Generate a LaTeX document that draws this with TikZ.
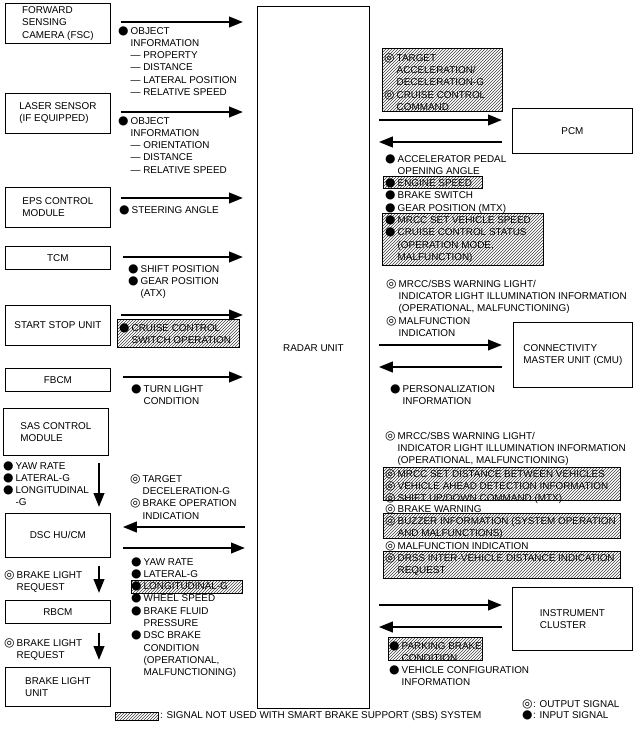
\documentclass[tikz,border=0pt]{standalone}
\usepackage{fontspec}
\setmainfont{Liberation Sans}
\newfontfamily\symf{DejaVu Sans}
\usetikzlibrary{calc,patterns,arrows.meta}
\def\sigfont{\fontsize{9.9}{12.3}\selectfont}
\def\insig{\makebox[12.5pt][l]{\symf\fontsize{12}{12}\selectfont ●}}
\def\outsig{\makebox[12.5pt][l]{\symf\fontsize{12}{12}\selectfont ◎}}
\def\ind{\hspace*{12.5pt}}
\def\dsh{—\ }

\begin{document}
\begin{tikzpicture}[x=1pt, y=-1pt,
		box/.style={draw, line width=0.8pt, anchor=north west, align=left, inner sep=0pt, font=\sigfont},
		txt/.style={anchor=north west, align=left, inner sep=0pt, font=\sigfont, yshift=3.8pt},
		hatch/.style={draw, line width=0.6pt, pattern=north east lines, pattern color=black!75},
		sig/.style={line width=2.4pt, -{Triangle[length=14pt,width=10.5pt]}}]
		%%%%% START %%%%%
		\useasboundingbox (0,0) rectangle (639,729);
		
		% hatched signals
		\draw[hatch] (117,319) rectangle (239,347);
		\draw[hatch] (131,580) rectangle (242,593);
		\draw[hatch] (115,712) rectangle (158,720);
		\draw[hatch] (382,48) rectangle (502,111);
		\draw[hatch] (383,176) rectangle (482,188);
		\draw[hatch] (382,213) rectangle (543,265);
		\draw[hatch] (383,467) rectangle (620,500);
		\draw[hatch] (383,513) rectangle (620,538);
		\draw[hatch] (383,551) rectangle (620,578);
		\draw[hatch] (388,637) rectangle (482,660);
		
		% units
		\node[box, minimum width=112, minimum height=702] (radar) at (257,6) {};
		\node[font=\sigfont] (radartxt) at ([yshift=9pt]radar.center) {RADAR UNIT};
		
		\node[box, minimum width=105, minimum height=40] (fsc) at (5,3) {FORWARD\\SENSING\\CAMERA (FSC)};
		\node[box, minimum width=105, minimum height=40] (laser) at (5,93) {LASER SENSOR\\(IF EQUIPPED)};
		\node[box, minimum width=105, minimum height=40] (eps) at (5,187) {EPS CONTROL\\MODULE};
		\node[box, minimum width=105, minimum height=23] (tcm) at (5,246) {TCM};
		\node[box, minimum width=105, minimum height=40] (ssu) at (5,305) {START STOP UNIT};
		\node[box, minimum width=105, minimum height=23] (fbcm) at (5,368) {FBCM};
		\node[box, minimum width=105, minimum height=47] (sas) at (3,408) {SAS CONTROL\\MODULE};
		\node[box, minimum width=105, minimum height=44] (dsc) at (5,513) {DSC HU/CM};
		\node[box, minimum width=105, minimum height=23] (rbcm) at (5,600) {RBCM};
		\node[box, minimum width=105, minimum height=39] (blu) at (5,667) {BRAKE LIGHT\\UNIT};
		
		\node[box, minimum width=120, minimum height=45] (pcm) at (512,108) {PCM};
		\node[box, minimum width=119, minimum height=65] (cmu) at (513,322) {CONNECTIVITY\\MASTER UNIT (CMU)};
		\node[box, minimum width=120, minimum height=63] (ic) at (512,587) {INSTRUMENT\\CLUSTER};
		
		% arrows, left side
		\draw[sig, shorten <=10pt, shorten >=14pt] (fsc.east |- 0,22) -- (radar.west |- 0,22);
		\draw[sig, shorten <=10pt, shorten >=14pt] (laser.east |- 0,112) -- (radar.west |- 0,112);
		\draw[sig, shorten <=10pt, shorten >=14pt] (eps.east |- 0,198) -- (radar.west |- 0,198);
		\draw[sig, shorten <=12pt, shorten >=14pt] (tcm.east |- 0,257) -- (radar.west |- 0,257);
		\draw[sig, shorten <=10pt, shorten >=14pt] (ssu.east |- 0,315) -- (radar.west |- 0,315);
		\draw[sig, shorten <=12pt, shorten >=14pt] (fbcm.east |- 0,377) -- (radar.west |- 0,377);
		\draw[sig, shorten <=12pt, shorten >=12pt] (radar.west |- 0,527) -- (dsc.east |- 0,527);
		\draw[sig, shorten <=12pt, shorten >=12pt] (dsc.east |- 0,548) -- (radar.west |- 0,548);
		
		\draw[sig, shorten <=7pt, shorten >=6pt] (sas.south -| 99,0) -- (dsc.north -| 99,0);
		\draw[sig, shorten <=8pt, shorten >=7pt] (dsc.south -| 99,0) -- (rbcm.north -| 99,0);
		\draw[sig, shorten <=9pt, shorten >=7pt] (rbcm.south -| 99,0) -- (blu.north -| 99,0);
		
		% arrows, right side
		\draw[sig, shorten <=9pt, shorten >=10pt] (radar.east |- 0,120) -- (pcm.west |- 0,120);
		\draw[sig, shorten <=10pt, shorten >=9pt] (pcm.west |- 0,142) -- (radar.east |- 0,142);
		\draw[sig, shorten <=9pt, shorten >=11pt] (radar.east |- 0,345) -- (cmu.west |- 0,345);
		\draw[sig, shorten <=11pt, shorten >=9pt] (cmu.west |- 0,367) -- (radar.east |- 0,367);
		\draw[sig, shorten <=9pt, shorten >=10pt] (radar.east |- 0,605) -- (ic.west |- 0,605);
		\draw[sig, shorten <=10pt, shorten >=9pt] (ic.west |- 0,627) -- (radar.east |- 0,627);
		
		% signals, left side
		\node[txt] (fscsig) at (118,30) {\insig OBJECT\\\ind INFORMATION\\\ind\dsh PROPERTY\\\ind\dsh DISTANCE\\\ind\dsh LATERAL POSITION\\\ind\dsh RELATIVE SPEED};
		\node[txt] (lasersig) at (118,120) {\insig OBJECT\\\ind INFORMATION\\\ind\dsh ORIENTATION\\\ind\dsh DISTANCE\\\ind\dsh RELATIVE SPEED};
		\node[txt] (epssig) at (119,209) {\insig STEERING ANGLE};
		\node[txt] (tcmsig) at (128,268) {\insig SHIFT POSITION\\\insig GEAR POSITION\\\ind (ATX)};
		\node[txt] (ssusig) at (119,327) {\insig CRUISE CONTROL\\\ind SWITCH OPERATION};
		\node[txt] (fbcmsig) at (131,388) {\insig TURN LIGHT\\\ind CONDITION};
		\node[txt] (sassig) at (3,465) {\insig YAW RATE\\\insig LATERAL-G\\\insig LONGITUDINAL\\\ind -G};
		\node[txt] (dscout) at (130,478) {\outsig TARGET\\\ind DECELERATION-G\\\outsig BRAKE OPERATION\\\ind INDICATION};
		\node[txt] (dscin) at (131,561) {\insig YAW RATE\\\insig LATERAL-G\\\insig LONGITUDINAL-G\\\insig WHEEL SPEED\\\insig BRAKE FLUID\\\ind PRESSURE\\\insig DSC BRAKE\\\ind CONDITION\\\ind (OPERATIONAL,\\\ind MALFUNCTIONING)};
		\node[txt] (rbcmsig) at (4,574) {\outsig BRAKE LIGHT\\\ind REQUEST};
		\node[txt] (blusig) at (4,642) {\outsig BRAKE LIGHT\\\ind REQUEST};
		
		% signals, right side
		\node[txt] (pcmout) at (384,57) {\outsig TARGET\\\ind ACCELERATION/\\\ind DECELERATION-G\\\outsig CRUISE CONTROL\\\ind COMMAND};
		\node[txt] (pcmin) at (385,158) {\insig ACCELERATOR PEDAL\\\ind OPENING ANGLE\\\insig ENGINE SPEED\\\insig BRAKE SWITCH\\\insig GEAR POSITION (MTX)\\\insig MRCC SET VEHICLE SPEED\\\insig CRUISE CONTROL STATUS\\\ind (OPERATION MODE,\\\ind MALFUNCTION)};
		\node[txt] (cmuout) at (386,283) {\outsig MRCC/SBS WARNING LIGHT/\\\ind INDICATOR LIGHT ILLUMINATION INFORMATION\\\ind (OPERATIONAL, MALFUNCTIONING)\\\outsig MALFUNCTION\\\ind INDICATION};
		\node[txt] (cmuin) at (390,388) {\insig PERSONALIZATION\\\ind INFORMATION};
		\node[txt] (icouta) at (385,435) {\outsig MRCC/SBS WARNING LIGHT/\\\ind INDICATOR LIGHT ILLUMINATION INFORMATION\\\ind (OPERATIONAL, MALFUNCTIONING)};
		\node[txt] (icoutb) at (385,473) {\outsig MRCC SET DISTANCE BETWEEN VEHICLES\\\outsig VEHICLE AHEAD DETECTION INFORMATION\\\outsig SHIFT UP/DOWN COMMAND (MTX)};
		\node[txt] (icoutc) at (385,508) {\outsig BRAKE WARNING\\\outsig BUZZER INFORMATION (SYSTEM OPERATION\\\ind AND MALFUNCTIONS)\\\outsig MALFUNCTION INDICATION\\\outsig DRSS INTER-VEHICLE DISTANCE INDICATION\\\ind REQUEST};
		\node[txt] (icin) at (389,645) {\insig PARKING BRAKE\\\ind CONDITION\\\insig VEHICLE CONFIGURATION\\\ind INFORMATION};
		
		% legend
		\node[font=\sigfont, anchor=west, inner sep=0pt] (sbskey) at (160,716) {: SIGNAL NOT USED WITH SMART BRAKE SUPPORT (SBS) SYSTEM};
		\node[txt] (outkey) at (522,703) {\makebox[11pt][l]{\symf\fontsize{12}{12}\selectfont ◎}: OUTPUT SIGNAL};
		\node[txt] (inkey) at (522,714) {\makebox[11pt][l]{\symf\fontsize{12}{12}\selectfont ●}: INPUT SIGNAL};
		
		%%%%% END %%%%%
\end{tikzpicture}
\end{document}
